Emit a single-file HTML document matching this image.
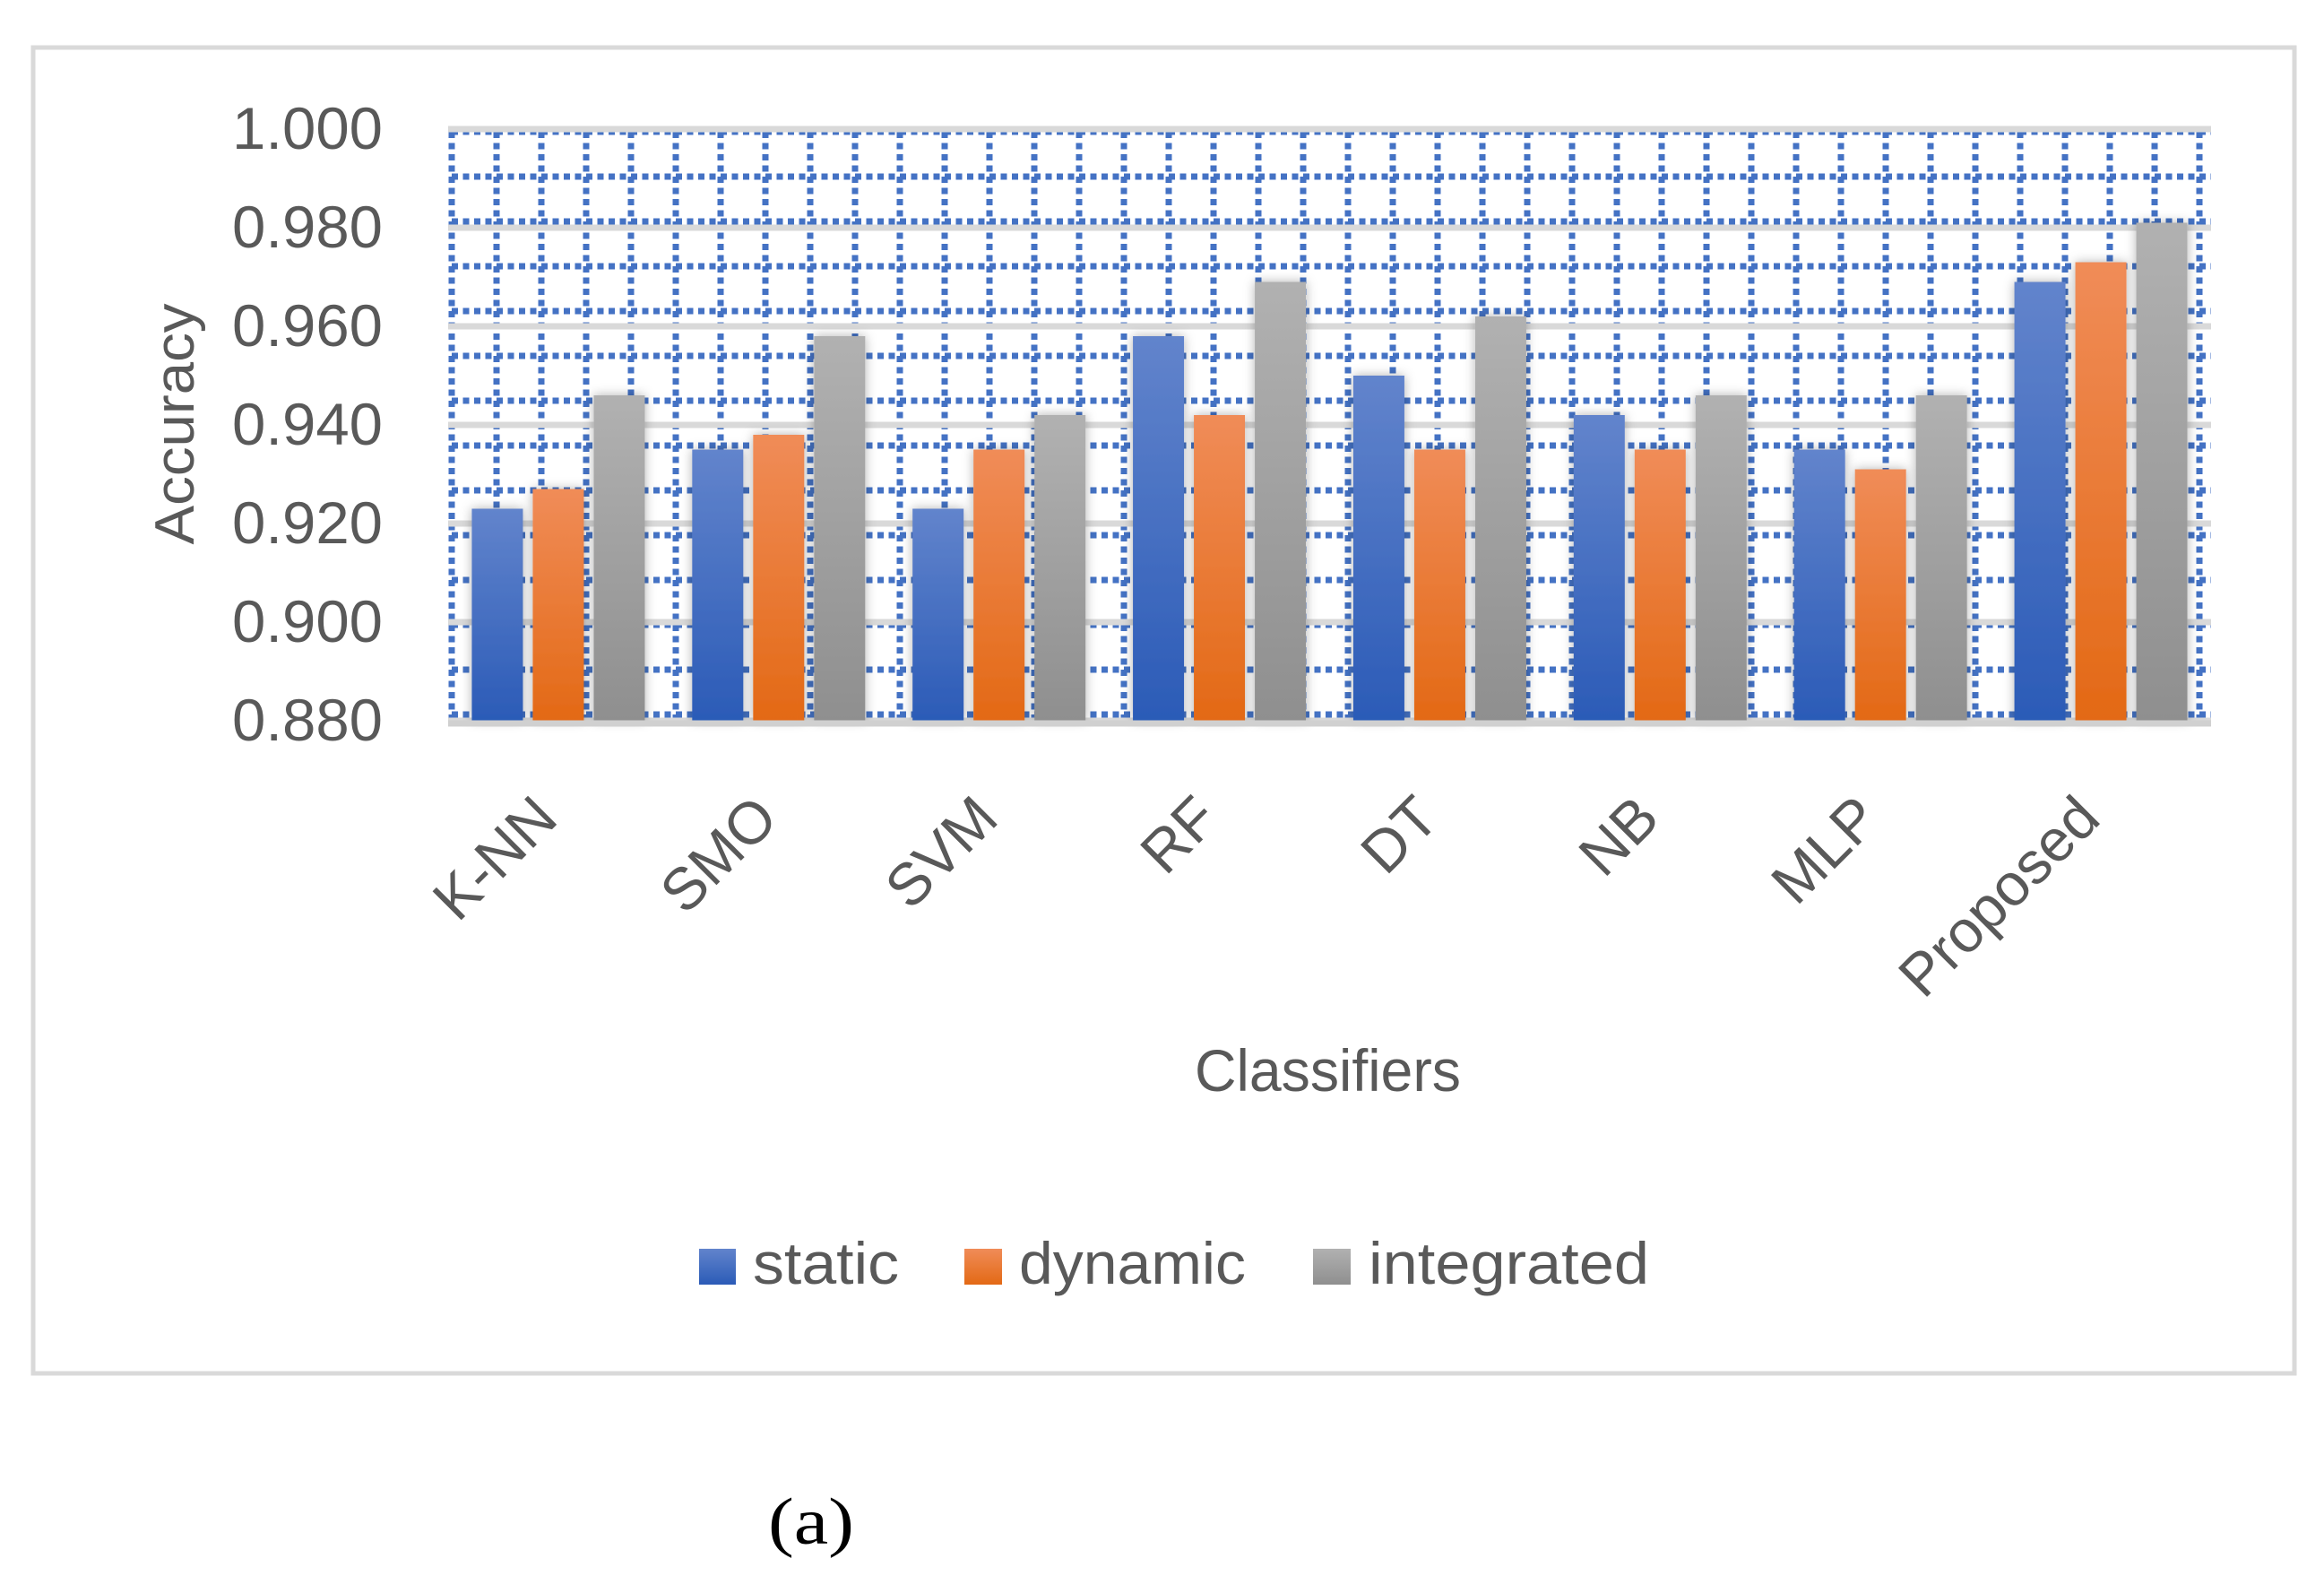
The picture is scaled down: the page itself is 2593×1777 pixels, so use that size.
<!DOCTYPE html>
<html><head><meta charset="utf-8"><style>
html,body{margin:0;padding:0;background:#fff;}
svg{display:block;}
text{font-family:"Liberation Sans",sans-serif;fill:#595959;}
</style></head><body>
<svg id="chart" width="2593" height="1777" viewBox="0 0 2593 1777" xmlns="http://www.w3.org/2000/svg">
<defs>
<linearGradient id="gBlue" x1="0" y1="0" x2="0" y2="1"><stop offset="0" stop-color="#6284cc"/><stop offset="1" stop-color="#2b5bb7"/></linearGradient>
<linearGradient id="gOrange" x1="0" y1="0" x2="0" y2="1"><stop offset="0" stop-color="#f08c58"/><stop offset="1" stop-color="#e36915"/></linearGradient>
<linearGradient id="gGray" x1="0" y1="0" x2="0" y2="1"><stop offset="0" stop-color="#b1b1b1"/><stop offset="1" stop-color="#8f8f8f"/></linearGradient>
<filter id="shadow" x="-40%" y="-10%" width="180%" height="120%"><feDropShadow dx="0" dy="0" stdDeviation="6" flood-color="#000" flood-opacity="0.3"/></filter>
</defs>
<rect x="37" y="53" width="2523" height="1479" fill="#fff" stroke="#d9d9d9" stroke-width="5"/>
<g id="grid"></g>
<g id="bars"></g>
<g id="labels"></g>
<text x="0" y="0" font-size="62" text-anchor="middle" textLength="269" lengthAdjust="spacingAndGlyphs" transform="translate(216,473) rotate(-90)">Accuracy</text>
<text x="1333" y="1217" font-size="66" textLength="297" lengthAdjust="spacingAndGlyphs">Classifiers</text>
<g>
<rect x="780" y="1393" width="41" height="40" fill="url(#gBlue)"/>
<text x="840" y="1432" font-size="66" textLength="163" lengthAdjust="spacingAndGlyphs">static</text>
<rect x="1076" y="1393" width="42" height="40" fill="url(#gOrange)"/>
<text x="1137" y="1432" font-size="66" textLength="253" lengthAdjust="spacingAndGlyphs">dynamic</text>
<rect x="1465" y="1393" width="42" height="40" fill="url(#gGray)"/>
<text x="1527" y="1432" font-size="66" textLength="313" lengthAdjust="spacingAndGlyphs">integrated</text>
</g>
<text x="857" y="1722" font-size="74" textLength="96" lengthAdjust="spacingAndGlyphs" style="font-family:'Liberation Serif',serif;fill:#000">(a)</text>
</svg>
<script>
const categories = ["K-NN","SMO","SVM","RF","DT","NB","MLP","Proposed"];
const staticVals = [0.923,0.935,0.923,0.958,0.950,0.942,0.935,0.969];
const dynamicVals = [0.927,0.938,0.935,0.942,0.935,0.935,0.931,0.973];
const integratedVals = [0.946,0.958,0.942,0.969,0.962,0.946,0.946,0.981];
const yTicks = ["0.880","0.900","0.920","0.940","0.960","0.980","1.000"];

const NS = "http://www.w3.org/2000/svg";
const plotL = 500, plotR = 2467, yTop = 144, yBot = 804, yMin = 0.88, yMax = 1.0;
function yScale(v){ return yBot - (v - yMin) / (yMax - yMin) * (yBot - yTop); }
const band = (plotR - plotL) / categories.length;
function xCenter(i){ return plotL + (i + 0.5) * band; }
function mk(tag, attrs, parent){ const e = document.createElementNS(NS, tag); for (const k in attrs) e.setAttribute(k, attrs[k]); parent.appendChild(e); return e; }

const grid = document.getElementById('grid');
for (let x = 504; x <= plotR; x += 50) {
  const l = mk('line', {x1:x, y1:147, x2:x, y2:yBot, stroke:'#4472c4', 'stroke-width':7, 'stroke-dasharray':'7 5.5'}, grid);
  
  
}
for (let y = 147; y <= yBot; y += 50) {
  const l = mk('line', {x1:plotL+4, y1:y, x2:plotR, y2:y, stroke:'#4472c4', 'stroke-width':7, 'stroke-dasharray':'7 5.5'}, grid);
  
  
}
const labels = document.getElementById('labels');
yTicks.forEach(t => {
  const y = yScale(parseFloat(t));
  const l = mk('line', {x1:plotL, y1:y, x2:plotR, y2:y, stroke:'#d9d9d9', 'stroke-width':7}, grid);
  
  
  const tx = mk('text', {x:427, y:y+22, 'font-size':66, 'text-anchor':'end', textLength:168, lengthAdjust:'spacingAndGlyphs'}, labels);
  tx.textContent = t;
  
  
});

const bars = document.getElementById('bars');
const series = [[staticVals,'url(#gBlue)','static',-68],[dynamicVals,'url(#gOrange)','dynamic',0],[integratedVals,'url(#gGray)','integrated',68]];
const bw = 57;
categories.forEach((c, i) => {
  const cx = xCenter(i);
  series.forEach(s => {
    const v = s[0][i];
    const y = yScale(v);
    const r = mk('rect', {x:cx + s[3] - bw/2, y:y, width:bw, height:yBot - y, fill:s[1], filter:'url(#shadow)'}, bars);
    
    
  });
  const tx = mk('text', {x:0, y:0, 'font-size':66, 'text-anchor':'end', transform:'translate(' + (cx + 2) + ',916) rotate(-45)'}, labels);
  tx.textContent = c;
  
  
});
const ax = mk('line', {x1:plotL, y1:yBot+3, x2:plotR, y2:yBot+3, stroke:'#d0d0d0', 'stroke-width':7}, bars);


</script>
</body></html>
